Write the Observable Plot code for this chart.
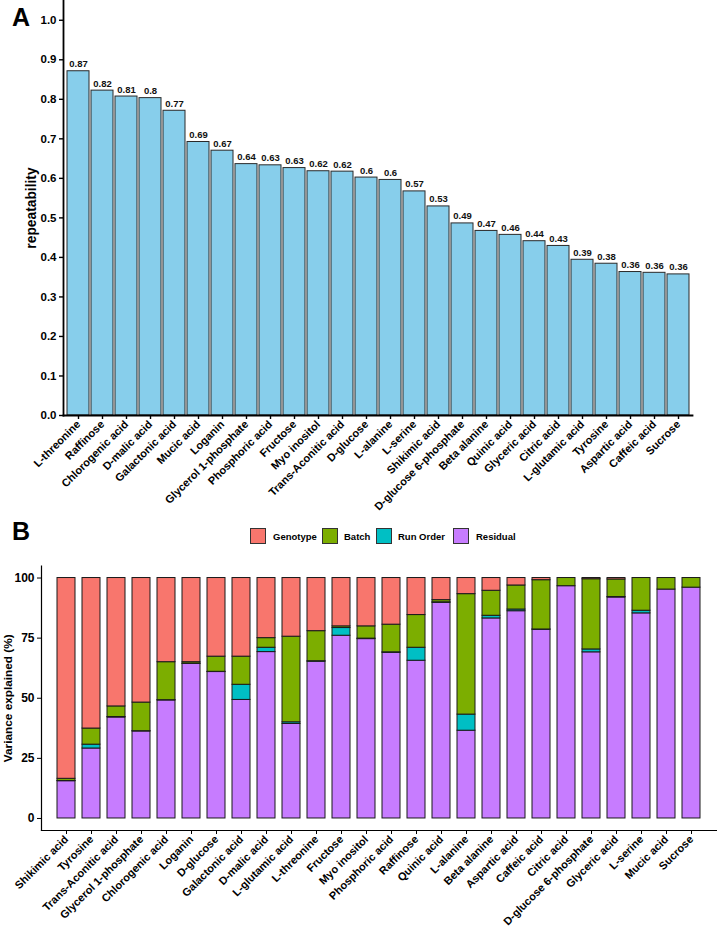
<!DOCTYPE html>
<html><head><meta charset="utf-8">
<script src="https://cdn.jsdelivr.net/npm/d3@7"></script>
<script src="https://cdn.jsdelivr.net/npm/@observablehq/plot@0.6"></script>
<style>
body{margin:0;background:#fff;font-family:"Liberation Sans",Arial,sans-serif;}
#wrap{position:relative;width:717px;height:930px;overflow:hidden;}
.panel{position:absolute;left:0;}
.panel svg{display:block;}
.tag{position:absolute;font-weight:bold;font-size:25px;line-height:1;color:#000;}
.sw{position:absolute;width:16px;height:16px;border:1px solid #333;box-sizing:border-box;}
.lt{position:absolute;white-space:nowrap;font-weight:bold;font-size:9.5px;color:#000;}
</style>
</head><body>
<div id="wrap">
  <div class="panel" id="pa" style="top:0"></div>
  <div class="panel" id="pb" style="top:560px"></div>
  <div class="tag" style="left:12px;top:5px">A</div>
  <div class="tag" style="left:12px;top:519px">B</div>
  <div id="legend"></div>
</div>
<script>
// Panel A data
const catsA = ["L-threonine","Raffinose","Chlorogenic acid","D-malic acid","Galactonic acid","Mucic acid","Loganin","Glycerol 1-phosphate","Phosphoric acid","Fructose","Myo inositol","Trans-Aconitic acid","D-glucose","L-alanine","L-serine","Shikimic acid","D-glucose 6-phosphate","Beta alanine","Quinic acid","Glyceric acid","Citric acid","L-glutamic acid","Tyrosine","Aspartic acid","Caffeic acid","Sucrose"];
const repeatability = [0.871,0.822,0.807,0.803,0.771,0.692,0.670,0.636,0.633,0.626,0.618,0.617,0.602,0.596,0.567,0.529,0.486,0.467,0.457,0.441,0.429,0.394,0.384,0.363,0.361,0.357];
const yTicksA = [0,0.1,0.2,0.3,0.4,0.5,0.6,0.7,0.8,0.9,1.0];

// Panel B data
const catsB = ["Shikimic acid","Tyrosine","Trans-Aconitic acid","Glycerol 1-phosphate","Chlorogenic acid","Loganin","D-glucose","Galactonic acid","D-malic acid","L-glutamic acid","L-threonine","Fructose","Myo inositol","Phosphoric acid","Raffinose","Quinic acid","L-alanine","Beta alanine","Aspartic acid","Caffeic acid","Citric acid","D-glucose 6-phosphate","Glyceric acid","L-serine","Mucic acid","Sucrose"];
const residual = [15.5,29.1,42.0,36.2,49.1,64.3,60.9,49.3,69.2,39.3,65.2,76.0,74.6,68.9,65.6,89.7,36.5,83.2,86.2,78.5,96.6,69.1,91.9,85.3,95.2,96.0];
const runOrder = [0.1,1.6,0.2,0.1,0.1,0.1,0.1,6.3,1.8,0.7,0.2,3.2,0.2,0.2,5.4,0.2,6.7,1.1,0.7,0.1,0.0,1.2,0.2,1.1,0.0,0.0];
const batch = [0.9,6.7,4.4,11.9,15.8,0.6,6.3,11.7,4.0,35.6,12.5,0.7,5.1,11.5,13.6,0.9,50.1,10.4,10.0,20.5,3.4,29.2,7.3,13.6,4.8,4.0];
const genotype = [83.5,62.6,53.4,51.8,35.0,35.0,32.7,32.7,25.0,24.4,22.1,20.1,20.1,19.4,15.4,9.2,6.7,5.3,3.1,0.9,0.0,0.5,0.6,0.0,0.0,0.0];
const yTicksB = [0,25,50,75,100];
const components = ["Genotype","Batch","Run Order","Residual"];
const compColors = ["#F8766D","#7CAE00","#00BFC4","#C77CFF"];
const stackOrder = ["Residual","Run Order","Batch","Genotype"];

const font = "'Liberation Sans', Arial, sans-serif";
const fmt = v => String(Math.round(v * 100) / 100);

const dataA = catsA.map((name, i) => ({name, value: repeatability[i]}));

const plotA = Plot.plot({
  width: 717, height: 510,
  marginTop: 0, marginLeft: 63, marginRight: 25, marginBottom: 95,
  style: {fontFamily: font, fontWeight: "bold", color: "#000", background: "#fff", overflow: "visible"},
  x: {domain: catsA, paddingInner: 0.1, paddingOuter: 0.15, label: null},
  y: {domain: [0, 1.05], label: null},
  marks: [
    Plot.barY(dataA, {x: "name", y: "value", fill: "#87CEEB", stroke: "#2a2a2a", strokeWidth: 1}),
    Plot.text(dataA, {x: "name", y: "value", text: d => fmt(d.value), dy: -7, fontSize: 9.5, fill: "#111"}),
    Plot.frame({anchor: "left", strokeWidth: 1.8}),
    Plot.frame({anchor: "bottom", strokeWidth: 1.8}),
    Plot.axisY({ticks: yTicksA, tickSize: 4, tickPadding: 3, tickFormat: d => d.toFixed(1), fontSize: 11.5, label: null, strokeWidth: 1.4}),
    Plot.axisX({tickSize: 4, tickPadding: 3, tickRotate: -45, fontSize: 11, label: null, strokeWidth: 1.4}),
    Plot.text(["repeatability"], {frameAnchor: "left", textAnchor: "middle", rotate: -90, dx: -31.5, fontSize: 13.8})
  ]
});
document.getElementById("pa").appendChild(plotA);

const dataB = [];
catsB.forEach((name, i) => {
  dataB.push({name, comp: "Residual", value: residual[i]});
  dataB.push({name, comp: "Run Order", value: runOrder[i]});
  dataB.push({name, comp: "Batch", value: batch[i]});
  dataB.push({name, comp: "Genotype", value: genotype[i]});
});

const plotB = Plot.plot({
  width: 717, height: 370,
  marginTop: 5.5, marginLeft: 41, marginRight: 1, marginBottom: 100,
  style: {fontFamily: font, fontWeight: "bold", color: "#000", background: "#fff", overflow: "visible"},
  x: {domain: catsB, paddingInner: 0.3, paddingOuter: 0.25, label: null},
  y: {domain: [-5, 105], label: null},
  color: {domain: components, range: compColors},
  marks: [
    Plot.barY(dataB, {x: "name", y: "value", fill: "comp", order: stackOrder, stroke: "#1a1a1a", strokeWidth: 1}),
    Plot.frame({anchor: "left", strokeWidth: 1.2}),
    Plot.frame({anchor: "bottom", strokeWidth: 1.2}),
    Plot.axisY({ticks: yTicksB, tickSize: 4, tickPadding: 3, fontSize: 12, label: null}),
    Plot.axisX({tickSize: 4, tickPadding: 3, tickRotate: -45, fontSize: 11, label: null}),
    Plot.text(["Variance explained (%)"], {frameAnchor: "left", textAnchor: "middle", rotate: -90, dx: -33.5, fontSize: 11.8})
  ]
});
document.getElementById("pb").appendChild(plotB);

// Legend
const legend = document.getElementById("legend");
const legPos = [[250, 273], [322, 344], [376, 398], [453, 476]];
components.forEach((c, i) => {
  const sw = document.createElement("div");
  sw.className = "sw";
  sw.style.left = legPos[i][0] + "px";
  sw.style.top = "528px";
  sw.style.background = compColors[i];
  legend.appendChild(sw);
  const t = document.createElement("div");
  t.className = "lt";
  t.style.left = legPos[i][1] + "px";
  t.style.top = "531px";
  t.textContent = c;
  legend.appendChild(t);
});
</script>
</body></html>
